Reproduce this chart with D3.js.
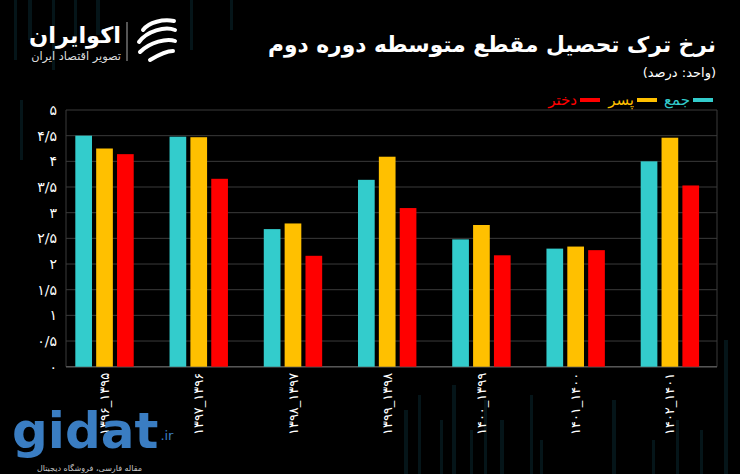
<!DOCTYPE html>
<html><head><meta charset="utf-8">
<script src="https://cdn.jsdelivr.net/npm/d3@7/dist/d3.min.js"></script>
<style>
html,body{margin:0;padding:0;background:#000;}
svg{display:block;}
text{font-family:"DejaVu Sans",sans-serif;}
</style></head><body>
<svg id="c" width="740" height="474"></svg>
<script>
const categories = ["۱۳۹۵_۱۳۹۶","۱۳۹۶_۱۳۹۷","۱۳۹۷_۱۳۹۸","۱۳۹۸_۱۳۹۹","۱۳۹۹_۱۴۰۰","۱۴۰۰_۱۴۰۱","۱۴۰۱_۱۴۰۲"];
const seriesNames = ["جمع","پسر","دختر"];
const totalValues = [4.50, 4.48, 2.68, 3.64, 2.48, 2.30, 4.00];
const boyValues   = [4.25, 4.47, 2.79, 4.09, 2.76, 2.34, 4.46];
const girlValues  = [4.14, 3.66, 2.16, 3.09, 2.17, 2.27, 3.53];
const yTicks = [0, 0.5, 1, 1.5, 2, 2.5, 3, 3.5, 4, 4.5, 5];
const titleText = "نرخ ترک تحصیل مقطع متوسطه دوره دوم";
const subtitleText = "(واحد: درصد)";

const colors = ["#33CCCC", "#FFC000", "#FF0000"];
const seriesValues = [totalValues, boyValues, girlValues];

const svg = d3.select("#c");
const W = 740, H = 474;
svg.append("rect").attr("width", W).attr("height", H).attr("fill", "#000");

// faint background stripes
const bg = svg.append("g").attr("opacity", 0.5);
[[14,0,3,60],[28,0,4,40],[52,0,3,70],[74,0,3,45],[96,0,4,35],[190,0,3,50],[230,0,3,30],[20,100,3,60]].forEach(s=>{
  bg.append("rect").attr("x",s[0]).attr("y",s[1]).attr("width",s[2]).attr("height",s[3]).attr("fill","#0b2a33");
});
[[404,410,4,64],[418,395,3,79],[440,420,3,54],[452,385,4,89],[470,430,3,44],[484,400,3,74],[500,420,4,54],[530,395,3,79],[540,440,3,34],[612,400,4,74],[652,440,3,34],[676,420,3,54],[700,430,3,44],[724,340,4,134]].forEach(s=>{
  bg.append("rect").attr("x",s[0]).attr("y",s[1]).attr("width",s[2]).attr("height",s[3]).attr("fill","#0b2a33");
});

const plotL = 66, plotR = 717, plotT = 110, plotB = 366.7;
const y = d3.scaleLinear().domain([0, 5]).range([plotB, plotT]);
const x0 = d3.scaleBand().domain(categories).range([57.4, 717]).padding(0);
const groupW = 58.4;
const x1 = d3.scaleBand().domain(seriesNames).range([(x0.bandwidth()-groupW)/2, (x0.bandwidth()+groupW)/2]).paddingInner(0.2).paddingOuter(0);

const toFa = s => String(s).replace(/\d/g, d => "۰۱۲۳۴۵۶۷۸۹"[+d]).replace(".", "/");

// grid
const grid = svg.append("g");
grid.selectAll("line").data(yTicks).join("line")
  .attr("x1", plotL).attr("x2", plotR)
  .attr("y1", d => y(d)).attr("y2", d => y(d))
  .attr("stroke", "#3a3a3a").attr("stroke-width", 1);
// frame
svg.append("line").attr("x1", plotL).attr("x2", plotL).attr("y1", plotT).attr("y2", plotB).attr("stroke", "#3a3a3a");
svg.append("line").attr("x1", plotR).attr("x2", plotR).attr("y1", plotT).attr("y2", plotB).attr("stroke", "#3a3a3a");
svg.append("line").attr("x1", plotL).attr("x2", plotR).attr("y1", plotB).attr("y2", plotB).attr("stroke", "#555").attr("stroke-width", 1.5);

// y axis labels
const yAxis = d3.axisLeft(y).tickValues(yTicks).tickFormat(toFa).tickSize(0).tickPadding(9);
const yg = svg.append("g").attr("transform", `translate(${plotL},0)`).call(yAxis);
yg.select(".domain").remove();
yg.selectAll("text").attr("fill", "#fff").attr("font-size", 14).attr("font-family", "DejaVu Sans");

// bars
const groups = svg.append("g").selectAll("g").data(categories).join("g")
  .attr("transform", d => `translate(${x0(d)},0)`);
groups.selectAll("rect").data((d, i) => seriesNames.map((s, j) => ({s, j, v: seriesValues[j][i]}))).join("rect")
  .attr("x", d => x1(d.s)).attr("width", x1.bandwidth())
  .attr("y", d => y(d.v)).attr("height", d => y(0) - y(d.v))
  .attr("fill", d => colors[d.j]);

// x labels
const xAxis = d3.axisBottom(x0).tickSize(0).tickPadding(0);
const xg = svg.append("g").attr("transform", `translate(0,${plotB})`).call(xAxis);
xg.select(".domain").remove();
xg.selectAll("text")
  .attr("fill", "#fff").attr("font-size", 13).attr("font-family", "DejaVu Sans")
  .attr("direction", "rtl")
  .attr("text-anchor", "start")
  .attr("dy", "0.35em")
  .attr("transform", "translate(0,6) rotate(-90)")
  .attr("x", 0).attr("y", 0);

// RTL helper: with direction rtl, text-anchor "start" anchors the right edge
const rtlText = (g, xr, yb, txt) => g.append("text").attr("x", xr).attr("y", yb)
  .attr("direction", "rtl").attr("text-anchor", "start").text(txt);

// title
const title = rtlText(svg, 716, 52, titleText).attr("fill", "#fff").attr("font-weight", "bold").attr("font-size", 24);
const tl = title.node().getComputedTextLength();
title.attr("font-size", 24 * 448 / tl);
rtlText(svg, 716, 77, subtitleText).attr("fill", "#fff").attr("font-size", 13);

// legend (right to left)
const legend = svg.append("g");
const legX = [713, 657, 600];
seriesNames.forEach((s, i) => {
  legend.append("line").attr("x1", legX[i] - 20).attr("x2", legX[i]).attr("y1", 100).attr("y2", 100)
    .attr("stroke", colors[i]).attr("stroke-width", 4);
  rtlText(legend, legX[i] - 23, 105, s).attr("fill", colors[i]).attr("font-size", 15);
});

// logo
const logo = svg.append("g");
const lt = rtlText(logo, 121, 43, "اکوایران").attr("fill", "#fff").attr("font-weight", "bold").attr("font-size", 22);
const ll = lt.node().getComputedTextLength();
lt.attr("font-size", 22 * 92 / ll);
const st = rtlText(logo, 121, 60, "تصویر اقتصاد ایران").attr("fill", "#ddd").attr("font-size", 10.5);
const sl = st.node().getComputedTextLength();
st.attr("font-size", 10.5 * 90 / sl);
logo.append("line").attr("x1", 127).attr("x2", 127).attr("y1", 22).attr("y2", 61).attr("stroke", "#aaa").attr("stroke-width", 1);
const ic = logo.append("g").attr("transform", "translate(157,40)").attr("fill", "none").attr("stroke", "#fff").attr("stroke-linecap", "round");
ic.append("path").attr("d", "M-14,-10 C-8,-18 6,-21 17,-19").attr("stroke-width", 4);
ic.append("path").attr("d", "M-18,2 C-10,-9 8,-14 18,-10").attr("stroke-width", 4);
ic.append("path").attr("d", "M-17,12 C-7,2 10,-2 18,1").attr("stroke-width", 4);
ic.append("path").attr("d", "M-7,20 C3,14 12,11 16,11").attr("stroke-width", 4);

// watermark
const wm = svg.append("g");
const gt = wm.append("text").attr("x", 12).attr("y", 448).attr("fill", "#3a7dc2").attr("font-size", 50).attr("font-family", "Lato").attr("font-weight", "bold").text("gidat");
const gw = gt.node().getComputedTextLength();
wm.append("text").attr("x", 12 + gw + 2).attr("y", 440).attr("fill", "#3a7dc2").attr("font-size", 13).attr("font-family", "Lato").text(".ir");
rtlText(wm, 142, 471, "مقاله فارسی، فروشگاه دیجیتال").attr("fill", "#c8c8c8").attr("font-size", 8);
</script>
</body></html>
